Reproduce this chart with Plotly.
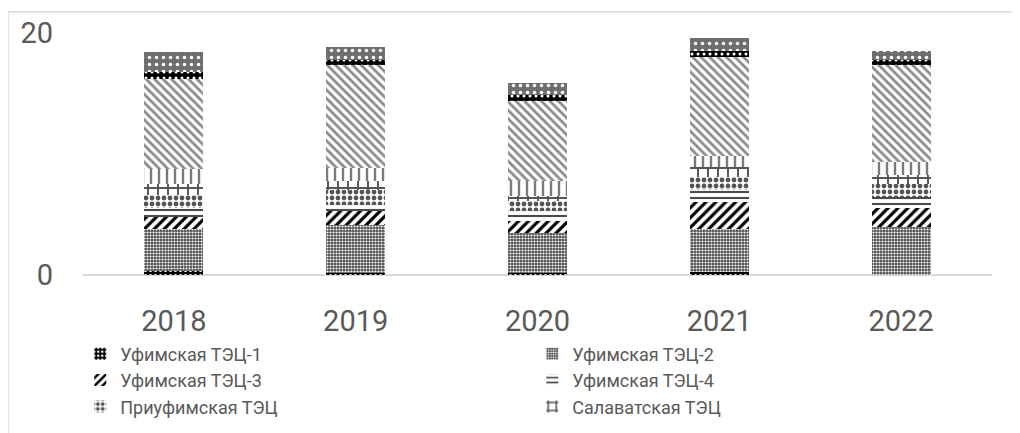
import plotly.graph_objects as go

years = ["2018", "2019", "2020", "2021", "2022"]

# выработка по станциям (снизу вверх, как в стопке)
tec1 = [0.33, 0.15, 0.20, 0.25, 0.02]
tec2 = [3.45, 3.95, 3.31, 3.59, 3.97]
tec3 = [1.02, 1.16, 0.97, 2.21, 1.52]
tec4 = [0.77, 0.55, 0.83, 0.97, 0.97]
priuf = [1.05, 1.24, 0.83, 1.10, 1.05]
salavat = [0.89, 0.75, 0.41, 0.83, 0.75]
sterlit = [1.24, 1.05, 1.24, 0.88, 1.10]
karman = [7.45, 8.50, 6.62, 8.22, 8.00]
novosterlit = [0.55, 0.45, 0.50, 0.50, 0.36]
zaural = [1.71, 1.05, 0.94, 1.02, 0.80]

names = ["Уфимская ТЭЦ-1", "Уфимская ТЭЦ-2", "Уфимская ТЭЦ-3", "Уфимская ТЭЦ-4",
         "Приуфимская ТЭЦ", "Салаватская ТЭЦ", "Стерлитамакская ТЭЦ",
         "Кармановская ГРЭС", "Ново-Стерлитамакская ТЭЦ", "Зауральская ТЭЦ"]
series = [tec1, tec2, tec3, tec4, priuf, salavat, sterlit, karman, novosterlit, zaural]

# (shape, fg, bg, size, solidity)
patterns = [
    (".", "white", "black", 5, 0.3),
    (".", "white", "#4d4d4d", 3, 0.4),
    ("/", "black", "white", 7, 0.45),
    ("-", "#4a4a4a", "white", 6, 0.35),
    (".", "#555555", "white", 6, 0.5),
    ("+", "#555555", "white", 10, 0.35),
    ("|", "#7a7a7a", "white", 8, 0.3),
    ("\\", "#8a8a8a", "white", 6, 0.45),
    (".", "white", "black", 6, 0.2),
    (".", "white", "#6e6e6e", 7, 0.2),
]

fig = go.Figure()

for i in range(len(series)):
    sh, fg, bg, sz, sol = patterns[i]
    fig.add_trace(go.Bar(
        x = years, y = series[i], name = names[i],
        marker = dict(color = bg, line = dict(width = 0),
                      pattern = dict(shape = sh, fgcolor = fg, bgcolor = bg,
                                     size = sz, solidity = sol, fillmode = "replace")),
        showlegend = i < 6
    ))

grid = "#d9d9d9"
txt = "#595959"

# страница сдвигает график на 8px (отступ body), поэтому поля на 8px меньше
fig.update_layout(
    barmode = "stack",
    bargap = 0.675,
    width = 1012, height = 425,
    margin = dict(l = 75, r = 28, t = 25, b = 158, autoexpand = False),
    plot_bgcolor = "white", paper_bgcolor = "white",
    font = dict(family = "Roboto", color = txt),
    legend = dict(orientation = "h", x = -0.003, xanchor = "left", y = -0.25, yanchor = "top",
                  traceorder = "normal", entrywidth = 407, entrywidthmode = "pixels",
                  font = dict(size = 18, color = txt)),
    shapes = [
        dict(type = "line", xref = "paper", yref = "paper", x0 = -0.0825, x1 = -0.0825, y0 = 1.088, y1 = -1,
             line = dict(color = grid, width = 1.5)),
        dict(type = "line", xref = "paper", yref = "paper", x0 = -0.0825, x1 = 1.2, y0 = 1.088, y1 = 1.088,
             line = dict(color = grid, width = 1.5)),
    ],
)

fig.update_yaxes(range = [0, 20], dtick = 20, showgrid = True, gridcolor = grid, gridwidth = 1,
                 zeroline = True, zerolinecolor = grid, zerolinewidth = 1.5,
                 tickfont = dict(size = 29, color = txt), ticks = "", ticklen = 0,
                 ticklabelstandoff = 29, showline = False)
fig.update_xaxes(showgrid = False, showline = False, tickfont = dict(size = 29, color = txt), ticks = "",
                 ticklabelstandoff = 26)

fig.write_html("out.html")
